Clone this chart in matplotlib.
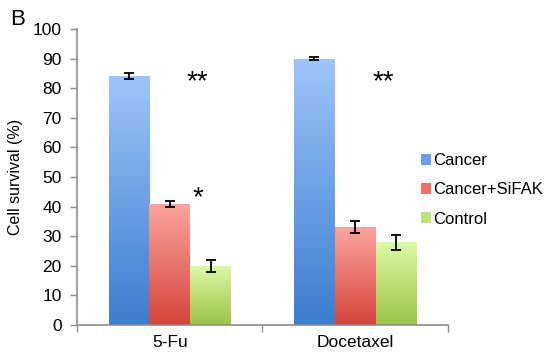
import numpy as np
import matplotlib.pyplot as plt
from matplotlib.colors import LinearSegmentedColormap
from matplotlib.patches import Patch

plt.rcParams['font.family'] = ['Liberation Sans', 'DejaVu Sans']

drugs = ["5-Fu", "Docetaxel"]
series = ["Cancer", "Cancer+SiFAK", "Control"]
values = {
    "Cancer": [84, 90],
    "Cancer+SiFAK": [41, 33],
    "Control": [20, 28],
}
errors = {
    "Cancer": [1.0, 0.5],
    "Cancer+SiFAK": [1.0, 2.0],
    "Control": [2.0, 2.5],
}
# (label, drug index, y)
stars = [("**", 0, 82), ("*", 0, 43), ("**", 1, 82)]

# gradient colours (top, bottom)
grads = {
    "Cancer": ("#9ec4fb", "#3b7dcf"),
    "Cancer+SiFAK": ("#fca59e", "#d5443a"),
    "Control": ("#ddf9a6", "#9bc447"),
}
legend_col = {"Cancer": "#6a9fe6", "Cancer+SiFAK": "#ec7169", "Control": "#bde27a"}

fig = plt.figure(figsize=(5.5, 3.53), dpi=100)
ax = fig.add_axes([0.14, 0.0793, 0.6745, 0.8385])

width = 0.22
x = np.arange(len(drugs))
for i, s in enumerate(series):
    xs = x + (i - 1) * width
    bars = ax.bar(xs, values[s], width, color="none", edgecolor="none", zorder=2)
    cmap = LinearSegmentedColormap.from_list(s, [grads[s][1], grads[s][0]])
    for b in bars:
        x0, y0 = b.get_x(), b.get_y()
        w, h = b.get_width(), b.get_height()
        grad = np.linspace(0, 1, 256).reshape(-1, 1)
        im = ax.imshow(grad, cmap=cmap, aspect="auto", origin="lower",
                       extent=[x0, x0 + w, y0, y0 + h], zorder=2)
        im.set_clip_path(b)
    ax.errorbar(xs, values[s], yerr=errors[s], fmt="none", ecolor="black",
                elinewidth=1.3, capsize=3.3, capthick=1.3, zorder=3)

for txt, d, y in stars:
    ax.text(d + 0.15, y, txt, ha="center", va="center", fontsize=20, color="black")

ax.set_xlim(-0.5, 1.5)
ax.set_ylim(0, 100)
ax.set_yticks(range(0, 101, 10))
ax.set_xticks([-0.5, 0.5, 1.5])
ax.set_xticklabels([])
ax.set_xticks(x, minor=True)
ax.set_xticklabels(drugs, minor=True)
ax.tick_params(axis="x", which="minor", length=0, pad=7, labelsize=12.5)
ax.tick_params(axis="x", which="major", length=5, color="#8c8c8c", width=1)
ax.tick_params(axis="y", length=5, color="#8c8c8c", width=1, labelsize=12.5, pad=6)

for side in ["top", "right"]:
    ax.spines[side].set_visible(False)
for side in ["left", "bottom"]:
    ax.spines[side].set_color("#8c8c8c")
    ax.spines[side].set_linewidth(1.2)

ax.set_ylabel("Cell survival (%)", fontsize=11.5, labelpad=7)

handles = [Patch(facecolor=legend_col[s], edgecolor="none", label=s) for s in series]
fig.legend(handles=handles, loc="center left", bbox_to_anchor=(0.738, 0.462),
           frameon=False, fontsize=12, handlelength=0.6, handleheight=0.6,
           handletextpad=0.15, labelspacing=0.85)

fig.text(0.018, 0.945, "B", fontsize=16, ha="left", va="center")

fig.savefig("out.png", dpi=100)
